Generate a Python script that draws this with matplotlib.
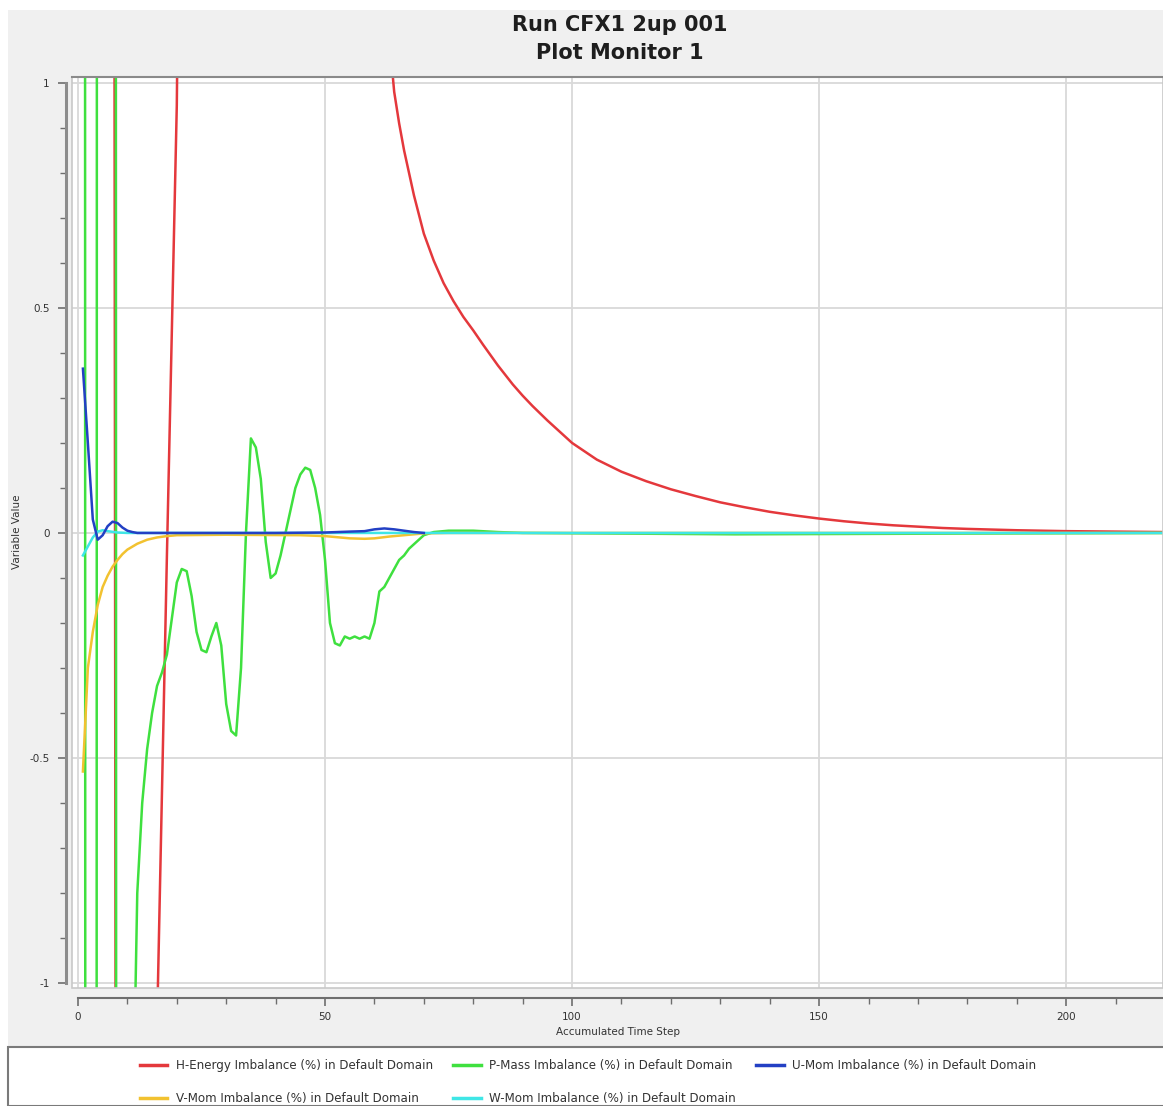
import numpy as np
import matplotlib
matplotlib.use("Agg")
import matplotlib.pyplot as plt
from matplotlib.patches import Rectangle
from matplotlib.ticker import MultipleLocator

# H-Energy imbalance (off-scale early, then decaying)
h_steps = [1, 7, 8, 12, 15, 16, 18, 20, 21, 25, 40, 55, 60, 62, 63, 64, 65, 66, 68, 70,
           72, 74, 76, 78, 80, 82, 85, 88, 90, 92, 95, 98, 100, 105, 110,
           115, 120, 125, 130, 135, 140, 145, 150, 155, 160, 165, 170, 175, 180, 190,
           200, 210, 220]
h_vals = [30, 5, -5, -20, -5, -1.1, -0.05, 0.95, 2, 15, 20, 8, 3, 1.6, 1.1, 0.98, 0.91, 0.85, 0.75, 0.665,
          0.605, 0.555, 0.515, 0.48, 0.45, 0.418, 0.372, 0.33, 0.305, 0.282, 0.25, 0.22, 0.2, 0.163, 0.136,
          0.115, 0.097, 0.082, 0.068, 0.057, 0.047, 0.039, 0.032, 0.026, 0.021, 0.017, 0.014, 0.011, 0.009, 0.006,
          0.004, 0.003, 0.002]

# P-Mass imbalance
p_steps = [1, 2, 3, 4, 5, 6, 7, 8, 9, 10, 11, 12, 13, 14, 15, 16, 17, 18, 19, 20,
           21, 22, 23, 24, 25, 26, 27, 28, 29, 30, 31, 32, 33, 34, 35, 36, 37, 38, 39, 40,
           41, 42, 43, 44, 45, 46, 47, 48, 49, 50, 51, 52, 53, 54, 55, 56, 57, 58, 59, 60,
           61, 62, 63, 64, 65, 66, 67, 68, 69, 70, 72, 75, 80, 85, 90, 133, 220]
p_vals = [25, -30, -40, 10, 40, 50, 30, -13, -10, -5, -1.4, -0.8, -0.6, -0.48, -0.4, -0.34, -0.31, -0.27, -0.19, -0.11,
          -0.08, -0.085, -0.14, -0.22, -0.26, -0.265, -0.23, -0.2, -0.25, -0.38, -0.44, -0.45, -0.3, 0.0, 0.21, 0.19, 0.12, -0.02, -0.1, -0.09,
          -0.05, 0.0, 0.05, 0.1, 0.13, 0.145, 0.14, 0.1, 0.04, -0.06, -0.2, -0.245, -0.25, -0.23, -0.235, -0.23, -0.235, -0.23, -0.235, -0.2,
          -0.13, -0.12, -0.1, -0.08, -0.06, -0.05, -0.035, -0.025, -0.015, -0.005, 0.002, 0.005, 0.005, 0.002, 0.0, -0.003, 0.0]

# U-Mom imbalance
u_steps = [1, 2, 3, 4, 5, 6, 7, 8, 9, 10, 11, 12, 20, 40, 50, 55, 58, 60, 62, 64, 66, 68, 70]
u_vals = [0.365, 0.2, 0.03, -0.015, -0.005, 0.015, 0.025, 0.022, 0.012, 0.005, 0.002, 0.0, 0.0, 0.0,
          0.001, 0.003, 0.004, 0.008, 0.01, 0.008, 0.005, 0.002, 0.0]

# V-Mom imbalance
v_steps = [1, 2, 3, 4, 5, 6, 7, 8, 9, 10, 12, 14, 16, 18, 20, 30, 45, 50, 55, 58, 60, 63, 66, 70, 75, 220]
v_vals = [-0.53, -0.3, -0.22, -0.16, -0.12, -0.095, -0.075, -0.06, -0.047, -0.037, -0.024, -0.015, -0.01,
          -0.007, -0.005, -0.004, -0.005, -0.007, -0.012, -0.013, -0.012, -0.008, -0.005, -0.001, 0.0, 0.0]

# W-Mom imbalance
w_steps = [1, 2, 3, 4, 5, 6, 8, 10, 220]
w_vals = [-0.05, -0.03, -0.01, 0.003, 0.006, 0.004, 0.001, 0.0, 0.0]

labels = ["H-Energy Imbalance (%) in Default Domain",
          "P-Mass Imbalance (%) in Default Domain",
          "U-Mom Imbalance (%) in Default Domain",
          "V-Mom Imbalance (%) in Default Domain",
          "W-Mom Imbalance (%) in Default Domain"]
colors = ["#e4383c", "#3fe03f", "#2340c4", "#f2c230", "#3fe6e6"]

W, H = 1163, 1106
fig = plt.figure(figsize=(W / 100, H / 100), dpi=100)
fig.patch.set_facecolor("white")

# grey panel behind plot
fig.add_artist(Rectangle((8 / W, 1 - 1047 / H), 1, (1047 - 10) / H, transform=fig.transFigure,
                         facecolor="#f0f0f0", edgecolor="none", zorder=0))
# legend panel
fig.add_artist(Rectangle((8 / W, 0), 1, 1 - 1047 / H, transform=fig.transFigure,
                         facecolor="white", edgecolor="#7a7a7a", lw=1.5, zorder=0.5))

ax = fig.add_axes([72 / W, 1 - 988 / H, 1 - 72 / W, (988 - 77) / H])
ax.set_facecolor("white")

lw = 1.8
ax.plot(h_steps, h_vals, color=colors[0], lw=lw, label=labels[0], zorder=3)
ax.plot(p_steps, p_vals, color=colors[1], lw=lw, label=labels[1], zorder=3)
ax.plot(v_steps, v_vals, color=colors[3], lw=lw, label=labels[3], zorder=3)
ax.plot(w_steps, w_vals, color=colors[4], lw=lw, label=labels[4], zorder=3)
ax.plot(u_steps, u_vals, color=colors[2], lw=lw, label=labels[2], zorder=3)

ax.set_xlim(-1.21, 219.6)
ax.set_ylim(-1.011, 1.013)

for s in ["top", "right"]:
    ax.spines[s].set_visible(False)
ax.spines["left"].set_position(("outward", 4))
ax.spines["left"].set_bounds(-1, 1)
ax.spines["left"].set_color("#8c8c8c")
ax.spines["left"].set_linewidth(2.2)
ax.spines["bottom"].set_position(("outward", 7))
ax.spines["bottom"].set_bounds(0, 219.6)
ax.spines["bottom"].set_color("#6e6e6e")
ax.spines["bottom"].set_linewidth(1.5)

# plot frame
ax.add_patch(Rectangle((0, 0), 1, 1, transform=ax.transAxes, fill=False,
                       edgecolor="#c8c8c8", lw=1.2, clip_on=False, zorder=4))
ax.plot([0, 1], [1, 1], transform=ax.transAxes, color="#8a8a8a", lw=1.5, clip_on=False, zorder=4)

ax.xaxis.set_major_locator(MultipleLocator(50))
ax.xaxis.set_minor_locator(MultipleLocator(10))
ax.yaxis.set_major_locator(MultipleLocator(0.5))
ax.yaxis.set_minor_locator(MultipleLocator(0.1))
ax.yaxis.set_major_formatter(matplotlib.ticker.FuncFormatter(lambda v, p: "%g" % v))
ax.tick_params(which="major", length=6, width=1.2, color="#6e6e6e", labelsize=7.5,
               labelcolor="#333333")
ax.tick_params(which="minor", length=4, width=1.0, color="#6e6e6e")
ax.tick_params(axis="x", pad=4)
ax.tick_params(axis="y", pad=6)

ax.grid(True, which="major", color="#d9d9d9", lw=1.3, zorder=1)
ax.set_axisbelow(True)

ax.set_xlabel("Accumulated Time Step", fontsize=7.5, color="#333333", labelpad=4)
fig.text(17 / W, 1 - 532 / H, "Variable Value", rotation=90, fontsize=7.5,
         color="#333333", ha="center", va="center")

fig.text(620 / W, 1 - 39 / H, "Run CFX1 2up 001\nPlot Monitor 1", fontsize=15,
         fontweight="bold", ha="center", va="center", color="#1e1e1e", linespacing=1.45)

h, l = ax.get_legend_handles_labels()
order = [0, 2, 1, 3, 4]  # H, V, P, W, U -> column-wise fill
leg = fig.legend([h[i] for i in order], [l[i] for i in order], ncol=3, frameon=False,
                 loc="upper left", bbox_to_anchor=(134 / W, 1 - 1053 / H),
                 fontsize=8.6, handlelength=2.3, handletextpad=0.7,
                 labelspacing=1.65, columnspacing=1.7, borderpad=0)
for t in leg.get_texts():
    t.set_color("#333333")
for ln in leg.get_lines():
    ln.set_linewidth(2.5)

fig.savefig("out.png", dpi=100)
